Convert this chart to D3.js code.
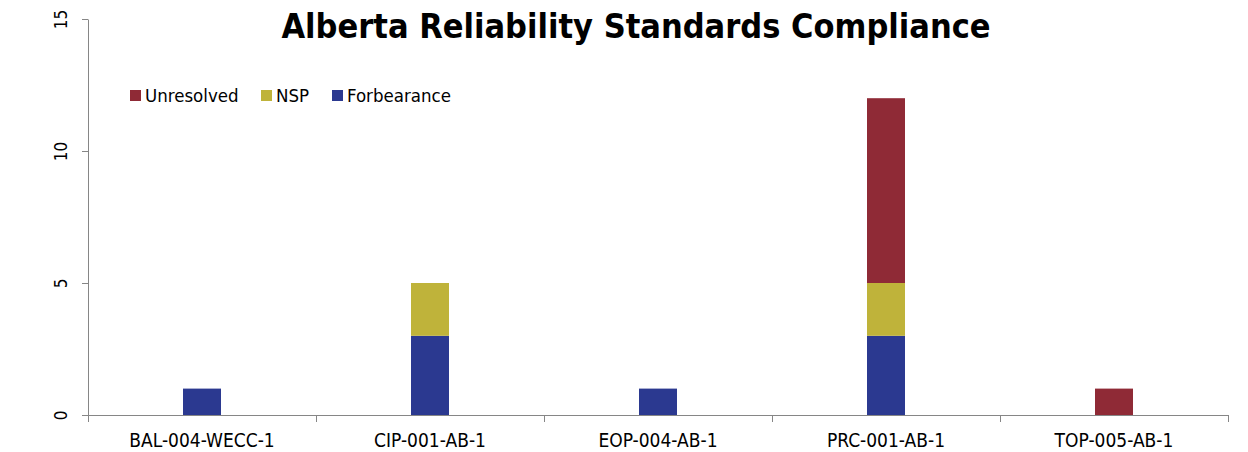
<!DOCTYPE html>
<html>
<head>
<meta charset="utf-8">
<script src="https://cdn.jsdelivr.net/npm/d3@7"></script>
<style>
  html, body { margin: 0; padding: 0; background: #fff; }
  svg { display: block; }
</style>
</head>
<body>
<svg id="chart" width="1248" height="452"></svg>
<script>
const categories = ["BAL-004-WECC-1", "CIP-001-AB-1", "EOP-004-AB-1", "PRC-001-AB-1", "TOP-005-AB-1"];
const forbearance = [1, 3, 1, 3, 0];
const nsp = [0, 2, 0, 2, 0];
const unresolved = [0, 0, 0, 7, 1];
const yTicks = [0, 5, 10, 15];
const seriesNames = ["Forbearance", "NSP", "Unresolved"];
const legendOrder = ["Unresolved", "NSP", "Forbearance"];
const colors = { Forbearance: "#2b3990", NSP: "#bfb33a", Unresolved: "#8f2a36" };

const svg = d3.select("#chart");
const margin = { left: 88, right: 20, top: 19, bottom: 37 };
const W = 1248, H = 452;
const fontFam = "'DejaVu Sans Condensed', 'DejaVu Sans', Verdana, sans-serif";

const x = d3.scaleBand().domain(categories).range([margin.left, W - margin.right]).paddingInner(0).paddingOuter(0);
const y = d3.scaleLinear().domain([0, 15]).range([H - margin.bottom, margin.top]);

const table = categories.map((c, i) => ({ cat: c, Forbearance: forbearance[i], NSP: nsp[i], Unresolved: unresolved[i] }));
const stacked = d3.stack().keys(seriesNames)(table);

const barW = 38;
svg.append("g").selectAll("g").data(stacked).join("g")
  .attr("fill", d => colors[d.key])
  .selectAll("rect").data(d => d.filter(s => s[1] - s[0] > 0)).join("rect")
  .attr("x", d => x(d.data.cat) + x.bandwidth() / 2 - barW / 2)
  .attr("width", barW)
  .attr("y", d => y(d[1]))
  .attr("height", d => y(d[0]) - y(d[1]));

const axisColor = "#868686";
// y axis
const yAxis = svg.append("g").attr("transform", `translate(${margin.left},0)`)
  .call(d3.axisLeft(y).tickValues(yTicks).tickSize(6).tickSizeOuter(0));
yAxis.select(".domain").attr("stroke", axisColor);
yAxis.selectAll(".tick line").attr("stroke", axisColor);
yAxis.selectAll(".tick text").remove();
yAxis.selectAll(".tick").append("text")
  .attr("transform", "translate(-21,0) rotate(-90)")
  .attr("text-anchor", "middle")
  .attr("fill", "#000")
  .style("font-family", fontFam)
  .style("font-size", "17px")
  .text(d => d);

// x axis with boundary ticks
const xg = svg.append("g").attr("transform", `translate(0,${y(0)})`);
xg.append("line").attr("x1", margin.left).attr("x2", W - margin.right)
  .attr("stroke", axisColor).attr("shape-rendering", "crispEdges");
const bounds = categories.map(c => x(c)).concat([x(categories[categories.length - 1]) + x.bandwidth()]);
xg.selectAll("line.b").data(bounds).join("line").attr("class", "b")
  .attr("x1", d => Math.round(d) + 0.5).attr("x2", d => Math.round(d) + 0.5)
  .attr("y1", 0).attr("y2", 7).attr("stroke", axisColor);
xg.selectAll("text").data(categories).join("text")
  .attr("x", d => x(d) + x.bandwidth() / 2)
  .attr("y", 32)
  .attr("text-anchor", "middle")
  .style("font-family", fontFam)
  .style("font-size", "19px")
  .text(d => d);

// title
svg.append("text")
  .attr("x", 636).attr("y", 38)
  .attr("text-anchor", "middle")
  .style("font-family", fontFam)
  .style("font-weight", "bold")
  .style("font-size", "34px")
  .text("Alberta Reliability Standards Compliance");

// legend
const legendX = [130, 261, 332];
const lg = svg.append("g").selectAll("g").data(legendOrder).join("g")
  .attr("transform", (d, i) => `translate(${legendX[i]},90)`);
lg.append("rect").attr("width", 11).attr("height", 11).attr("fill", d => colors[d]);
lg.append("text").attr("x", 15).attr("y", 12)
  .style("font-family", fontFam)
  .style("font-size", "18.5px")
  .text(d => d);
</script>
</body>
</html>
